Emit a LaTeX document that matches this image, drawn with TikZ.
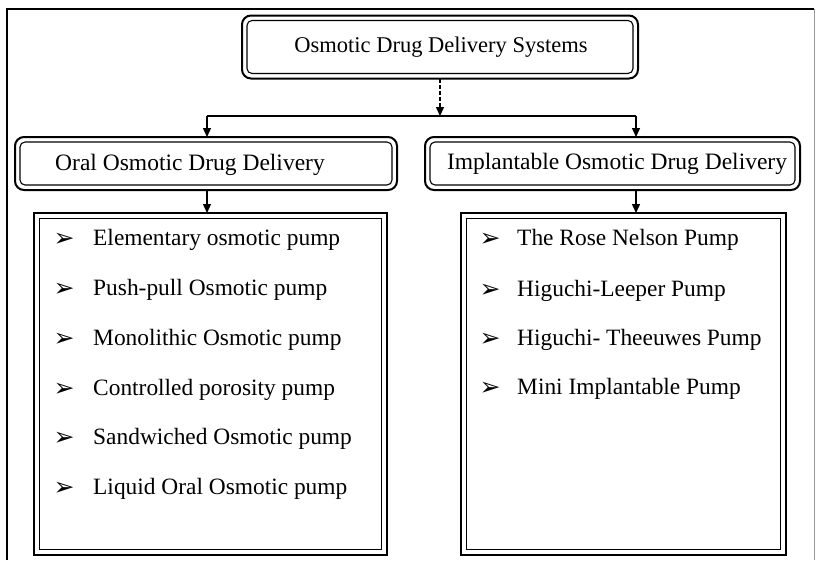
\documentclass[tikz,border=0pt]{standalone}
\usepackage{fontspec}
\setmainfont{Liberation Serif}
\newfontfamily\dingfont{DejaVu Sans}
\usetikzlibrary{arrows.meta}
\begin{document}
\begin{tikzpicture}[x=1pt,y=-1pt,
  hbox/.style={draw,line width=2pt,rounded corners=9pt,inner sep=0pt,outer sep=0pt},
  lbox/.style={draw,line width=2.2pt,inner sep=0pt,outer sep=0pt},
  innerln/.style={draw,line width=1.1pt},
  htext/.style={font=\fontsize{23.5}{28}\selectfont,inner sep=0pt},
  itext/.style={font=\fontsize{23.4}{28}\selectfont,anchor=west,inner sep=0pt},
  bul/.style={font=\dingfont\fontsize{25}{28}\selectfont,inner sep=0pt},
  conn/.style={line width=1.4pt},
  arr/.style={conn,-{Triangle[width=8pt,length=9pt]}}
]
\useasboundingbox (0,0) rectangle (816,560);
\fill[white] (0,0) rectangle (816,560);
% outer frame
\draw[line width=1.4pt] (7,560) -- (7,9) -- (814,9);
\draw[line width=0.6pt,black!40] (814,9) -- (814,560);

% top box
\node[hbox,minimum width=396pt,minimum height=63pt] (top) at (440,47) {};
\draw[innerln,rounded corners=5pt] ([xshift=5pt,yshift=-5pt]top.north west) rectangle ([xshift=-5pt,yshift=5pt]top.south east);
\node[htext,font=\fontsize{22.5}{27}\selectfont] (toptxt) at (441,47) {Osmotic Drug Delivery Systems};

% headers
\node[hbox,minimum width=382pt,minimum height=53pt] (lh) at (206,163.5) {};
\draw[innerln,rounded corners=5pt] ([xshift=5pt,yshift=-5pt]lh.north west) rectangle ([xshift=-5pt,yshift=5pt]lh.south east);
\node[htext] (lhtxt) at (190,165) {Oral Osmotic Drug Delivery};

\node[hbox,minimum width=375pt,minimum height=53pt] (rh) at (612.5,163.5) {};
\draw[innerln,rounded corners=5pt] ([xshift=5pt,yshift=-5pt]rh.north west) rectangle ([xshift=-5pt,yshift=5pt]rh.south east);
\node[htext] (rhtxt) at (617,164) {Implantable Osmotic Drug Delivery};

% list boxes
\node[lbox,minimum width=353pt,minimum height=342pt] (ll) at (210.5,384) {};
\draw[innerln] ([xshift=5.5pt,yshift=-5.5pt]ll.north west) rectangle ([xshift=-5.5pt,yshift=5.5pt]ll.south east);
\node[lbox,minimum width=325pt,minimum height=342pt] (rl) at (623.5,384) {};
\draw[innerln] ([xshift=5.5pt,yshift=-5.5pt]rl.north west) rectangle ([xshift=-5.5pt,yshift=5.5pt]rl.south east);

% connectors
\coordinate (j) at (440,116);
\coordinate (lj) at (207,116);
\coordinate (rj) at (636,116);
\draw[arr,dashed,dash pattern=on 4pt off 2pt] (top.south -| j) -- (j);
\draw[conn] (lj) -- (rj);
\draw[arr] (lj) -- (lj |- lh.north);
\draw[arr] (rj) -- (rj |- rh.north);
\draw[arr] (lj |- lh.south) -- (lj |- ll.north);
\draw[arr] (rj |- rh.south) -- (rj |- rl.north);

% left items
\node[bul] (lb1) at (64,240) {➢}; \node[itext] (li1) at (93,240) {Elementary osmotic pump};
\node[bul] (lb2) at (64,290) {➢}; \node[itext] (li2) at (93,290) {Push-pull Osmotic pump};
\node[bul] (lb3) at (64,340) {➢}; \node[itext] (li3) at (93,340) {Monolithic Osmotic pump};
\node[bul] (lb4) at (64,390) {➢}; \node[itext] (li4) at (93,390) {Controlled porosity pump};
\node[bul] (lb5) at (64,439) {➢}; \node[itext] (li5) at (93,439) {Sandwiched Osmotic pump};
\node[bul] (lb6) at (64,489) {➢}; \node[itext] (li6) at (93,489) {Liquid Oral Osmotic pump};

% right items
\node[bul] (rb1) at (490,240) {➢}; \node[itext] (ri1) at (517,240) {The Rose Nelson Pump};
\node[bul] (rb2) at (490,291) {➢}; \node[itext] (ri2) at (517,291) {Higuchi-Leeper Pump};
\node[bul] (rb3) at (490,340) {➢}; \node[itext] (ri3) at (517,340) {Higuchi- Theeuwes Pump};
\node[bul] (rb4) at (490,389) {➢}; \node[itext] (ri4) at (517,389) {Mini Implantable Pump};
\end{tikzpicture}
\end{document}
